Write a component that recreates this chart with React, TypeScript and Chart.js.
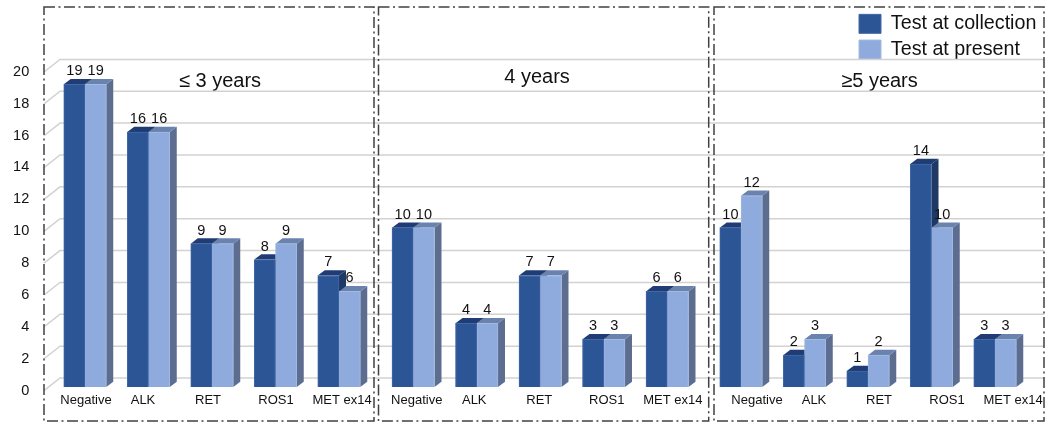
import React, { useEffect, useRef } from "react";
import { Chart, registerables } from "chart.js";

Chart.register(...registerables);

const categories = ["Negative", "ALK", "RET", "ROS1", "MET ex14"];
const seriesNames = ["Test at collection", "Test at present"];
const panelTitles = ["≤ 3 years", "4 years", "≥5 years"];

const collectionUpTo3 = [19, 16, 9, 8, 7];
const presentUpTo3 = [19, 16, 9, 9, 6];
const collection4 = [10, 4, 7, 3, 6];
const present4 = [10, 4, 7, 3, 6];
const collection5Plus = [10, 2, 1, 14, 3];
const present5Plus = [12, 3, 2, 10, 3];

const FONT = "'Liberation Sans', Arial, sans-serif";
const WIDTH = 1053;
const HEIGHT = 432;
const FRONT_TOP = 68.4;
const FRONT_BOTTOM = 387;
const WALL_SHIFT = 9;
const DX = 7;
const DY = 5.3;

const COLORS = [
  { front: "#2c5596", top: "#1f3c74", side: "#1f3864", edge: "#4268a8" },
  { front: "#8faadc", top: "#6a83ae", side: "#5c6d90", edge: "#a3bae3" },
];

const layouts = [
  { a: collectionUpTo3, b: presentUpTo3, left: 53.25, right: 370.75, frame: [44, 7, 374, 421], grid: [60, 376], title: [220, 81], nudges: [1, -5.5, -4, 0.5, 3], axis: true, legend: false },
  { a: collection4, b: present4, left: 381.5, right: 699, frame: [378.5, 7, 708.7, 421], grid: [376, 712], title: [537, 77], nudges: [3.5, -2.5, -1, 3, 5.5], axis: false, legend: false },
  { a: collection5Plus, b: present5Plus, left: 709.25, right: 1026.75, frame: [714, 7, 1044, 421], grid: [712, 1044], title: [879.5, 81], nudges: [16, 9.5, 11, 15.5, 18], axis: false, legend: true },
];

type Layout = (typeof layouts)[number];

const makePlugin = (cfg: Layout) => ({
  id: "panelDecor",
  afterLayout(chart: any) {
    const t = chart.titleBlock;
    if (t) {
      t.left = cfg.title[0] - 100;
      t.right = cfg.title[0] + 100;
      t.top = cfg.title[1] - 10;
      t.bottom = cfg.title[1] + 10;
    }
    const l = chart.legend;
    if (cfg.legend && l) {
      const w = l.width;
      const h = l.height;
      l.left = 853;
      l.top = 8;
      l.right = 853 + w;
      l.bottom = 8 + h;
    }
  },
  beforeDraw(chart: any) {
    const x = chart.scales.x;
    x.getLabelItems().forEach((item: any, i: number) => {
      item.options.translation[0] = x.getPixelForTick(i) + cfg.nudges[i];
    });
    if (cfg.axis) {
      const y = chart.scales.y;
      y.getLabelItems().forEach((item: any, i: number) => {
        item.options.translation[1] = y.getPixelForTick(i) + 3.5;
      });
    }
  },
  beforeDatasetsDraw(chart: any) {
    const ctx = chart.ctx;
    const y = chart.scales.y;
    ctx.save();
    // Back wall grid
    ctx.strokeStyle = "#d2d2d2";
    ctx.lineWidth = 1.5;
    y.ticks.forEach((tick: any) => {
      const py = y.getPixelForValue(tick.value);
      ctx.beginPath();
      if (cfg.axis) {
        ctx.moveTo(44, py + 3.6);
        ctx.lineTo(cfg.grid[0], py - WALL_SHIFT);
      } else {
        ctx.moveTo(cfg.grid[0], py - WALL_SHIFT);
      }
      ctx.lineTo(cfg.grid[1], py - WALL_SHIFT);
      ctx.stroke();
    });
    // Panel frame
    const [fx0, fy0, fx1, fy1] = cfg.frame;
    ctx.strokeStyle = "#404040";
    ctx.lineWidth = 1.5;
    ctx.setLineDash([11, 3.5, 2, 3.5]);
    ctx.strokeRect(fx0, fy0, fx1 - fx0, fy1 - fy0);
    ctx.setLineDash([]);
    // 3D sides and tops of the bars
    [0, 1].forEach((d) => {
      const c = COLORS[d];
      chart.getDatasetMeta(d).data.forEach((bar: any) => {
        const x0 = bar.x - bar.width / 2;
        const x1 = bar.x + bar.width / 2;
        ctx.fillStyle = c.side;
        ctx.beginPath();
        ctx.moveTo(x1, bar.y);
        ctx.lineTo(x1 + DX, bar.y - DY);
        ctx.lineTo(x1 + DX, bar.base - DY);
        ctx.lineTo(x1, bar.base);
        ctx.closePath();
        ctx.fill();
        ctx.fillStyle = c.top;
        ctx.beginPath();
        ctx.moveTo(x0, bar.y);
        ctx.lineTo(x0 + DX, bar.y - DY);
        ctx.lineTo(x1 + DX, bar.y - DY);
        ctx.lineTo(x1, bar.y);
        ctx.closePath();
        ctx.fill();
      });
    });
    ctx.restore();
  },
  afterDatasetsDraw(chart: any) {
    const ctx = chart.ctx;
    ctx.save();
    ctx.fillStyle = "#111";
    ctx.font = `14.5px ${FONT}`;
    ctx.textAlign = "center";
    ctx.textBaseline = "middle";
    chart.data.datasets.forEach((ds: any, d: number) => {
      chart.getDatasetMeta(d).data.forEach((bar: any, i: number) => {
        ctx.fillText(String(ds.data[i]), bar.x, bar.y - 13);
      });
    });
    ctx.restore();
  },
});

function Panel({ cfg, index }: { cfg: Layout; index: number }) {
  const ref = useRef<HTMLCanvasElement>(null);
  useEffect(() => {
    const chart = new Chart(ref.current as HTMLCanvasElement, {
      type: "bar",
      data: {
        labels: categories,
        datasets: [cfg.a, cfg.b].map((values, d) => ({
          label: seriesNames[d],
          data: values,
          backgroundColor: COLORS[d].front,
          borderColor: COLORS[d].edge,
          borderWidth: 1,
          barThickness: 21.25,
        })),
      },
      options: {
        responsive: false,
        animation: false,
        events: [],
        layout: {
          padding: {
            left: cfg.axis ? 0 : cfg.left,
            right: WIDTH - cfg.right,
            top: FRONT_TOP - 20,
            bottom: 0,
          },
        },
        plugins: {
          title: {
            display: true,
            text: panelTitles[index],
            color: "#111",
            padding: 0,
            font: { family: FONT, size: 20, weight: "normal", lineHeight: 1 },
          },
          legend: {
            display: cfg.legend,
            position: "chartArea",
            align: "start",
            labels: {
              boxWidth: 22,
              boxHeight: 19,
              padding: 6,
              color: "#111",
              font: { family: FONT, size: 19.7 },
            },
          },
          tooltip: { enabled: false },
        },
        scales: {
          x: {
            grid: { display: false, drawTicks: false },
            border: { display: false },
            afterFit: (s: any) => {
              s.height = HEIGHT - FRONT_BOTTOM;
            },
            ticks: {
              autoSkip: false,
              maxRotation: 0,
              padding: 6,
              color: "#111",
              font: { family: FONT, size: 13 },
            },
          },
          y: {
            display: cfg.axis,
            min: 0,
            max: 20,
            grid: { display: false, drawTicks: false },
            border: { display: false },
            afterFit: (s: any) => {
              s.width = cfg.axis ? cfg.left : 0;
            },
            ticks: {
              stepSize: 2,
              padding: 24,
              color: "#111",
              font: { family: FONT, size: 14.5 },
            },
          },
        },
      } as any,
      plugins: [makePlugin(cfg)],
    });
    return () => chart.destroy();
  }, [cfg, index]);
  return (
    <canvas
      ref={ref}
      width={WIDTH}
      height={HEIGHT}
      style={{ position: "absolute", left: 0, top: 0, width: WIDTH, height: HEIGHT }}
    />
  );
}

export default function App() {
  return (
    <div
      style={{
        position: "fixed",
        left: 0,
        top: 0,
        width: WIDTH,
        height: HEIGHT,
        background: "#fff",
        overflow: "hidden",
      }}
    >
      {layouts.map((cfg, i) => (
        <Panel key={i} cfg={cfg} index={i} />
      ))}
    </div>
  );
}
